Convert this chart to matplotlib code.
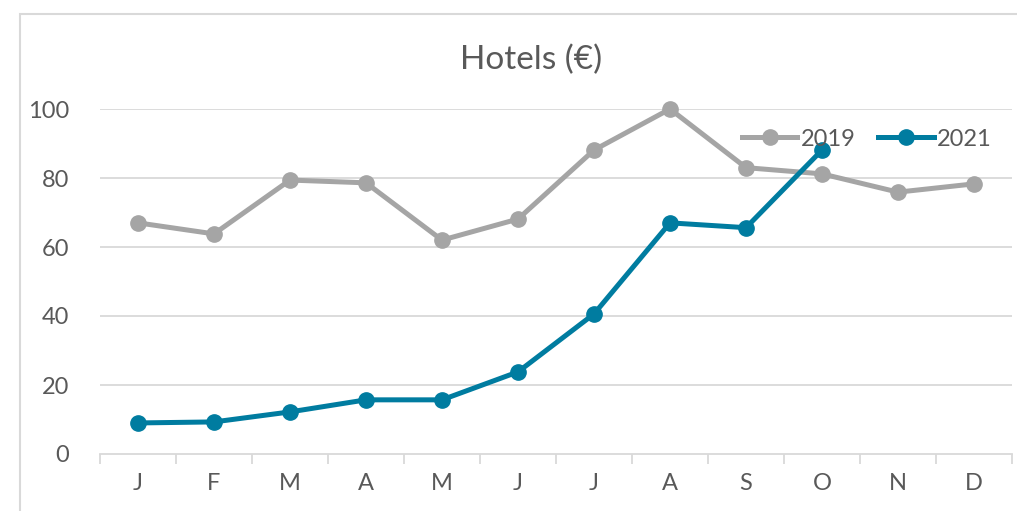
import matplotlib
matplotlib.use("Agg")
import matplotlib.pyplot as plt
from matplotlib.lines import Line2D
from matplotlib.patches import Rectangle
import numpy as np

months = ["J", "F", "M", "A", "M", "J", "J", "A", "S", "O", "N", "D"]
hotels_2019 = [67.0, 63.8, 79.4, 78.6, 62.0, 68.1, 88.1, 100.0, 83.0, 81.2, 75.9, 78.3]
hotels_2021 = [9.0, 9.3, 12.2, 15.7, 15.7, 23.8, 40.6, 67.0, 65.6, 88.1]
series_labels = ["2019", "2021"]
y_ticks = [0, 20, 40, 60, 80, 100]
title = "Hotels (€)"

plt.rcParams['font.family'] = ['Lato', 'DejaVu Sans']
GRAY = "#A5A5A5"
TEAL = "#007CA0"
TXT = "#595959"
GRID = "#D9D9D9"

W, H = 1017, 511
fig = plt.figure(figsize=(W / 100, H / 100), dpi=100)
ax = fig.add_axes([100 / W, 1 - 454 / H, 912 / W, (454 - 109) / H])

LW, MS = 3.6, 11
x19 = np.arange(len(hotels_2019))
x21 = np.arange(len(hotels_2021))
ax.plot(x19, hotels_2019, color=GRAY, lw=LW, marker="o", ms=MS, solid_capstyle="round", zorder=3, clip_on=False)
ax.plot(x21, hotels_2021, color=TEAL, lw=LW, marker="o", ms=MS, solid_capstyle="round", zorder=4, clip_on=False)

ax.set_xlim(-0.5, len(months) - 0.5)
ax.set_ylim(0, 100)
ax.set_yticks(y_ticks)
ax.set_yticklabels([str(v) for v in y_ticks])
for v in y_ticks[1:]:
    ax.axhline(v, color=GRID, lw=1.3, zorder=1)

ax.set_xticks(np.arange(-0.5, len(months)), minor=False)
ax.set_xticklabels([])
ax.set_xticks(np.arange(len(months)), minor=True)
ax.set_xticklabels(months, minor=True)
ax.tick_params(axis="x", which="major", length=7, color=GRID, width=1.3)
ax.tick_params(axis="x", which="minor", length=0, pad=14, labelsize=17, labelcolor=TXT)
ax.tick_params(axis="y", length=0, pad=22, labelsize=17, labelcolor=TXT)

for s in ["top", "right", "left"]:
    ax.spines[s].set_visible(False)
ax.spines["bottom"].set_color(GRID)
ax.spines["bottom"].set_linewidth(1.3)

fig.text(531 / W, 1 - 60 / H, title, ha="center", va="center", fontsize=24, color=TXT)

handles = [Line2D([], [], color=GRAY, lw=LW, marker="o", ms=MS),
           Line2D([], [], color=TEAL, lw=LW, marker="o", ms=MS)]
fig.legend(handles, series_labels, loc="center right", bbox_to_anchor=(992 / W, 1 - 139 / H),
           ncol=2, frameon=False, fontsize=17, labelcolor=TXT, handlelength=2.35,
           handletextpad=0.15, columnspacing=0.95, borderpad=0, borderaxespad=0)

fig.patches.append(Rectangle((20 / W, -0.1), 1.2, 1 - 14 / H + 0.1, transform=fig.transFigure,
                             fill=False, edgecolor=GRID, lw=1.5))

fig.savefig("out.png", dpi=100)
